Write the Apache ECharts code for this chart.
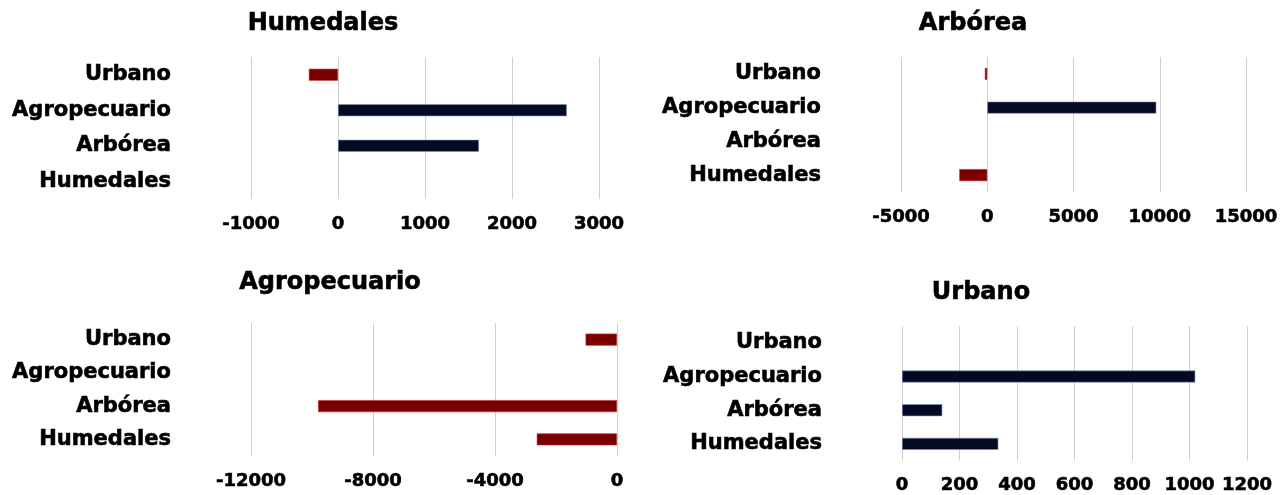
<!DOCTYPE html>
<html>
<head>
<meta charset="utf-8">
<script src="https://cdn.jsdelivr.net/npm/echarts@6/dist/echarts.min.js"></script>
<style>
  html, body { margin: 0; padding: 0; background: #ffffff; }
  #chart { width: 1286px; height: 495px; }
</style>
</head>
<body>
<div id="chart"></div>
<script>
// Categories (top to bottom)
const categories = ['Urbano', 'Agropecuario', 'Arbórea', 'Humedales'];

// Panel titles
const panelTitles = ['Humedales', 'Arbórea', 'Agropecuario', 'Urbano'];

// Values per panel, in category order (null = no bar)
const humedalesValues    = [-335, 2630, 1620, null];
const arboreaValues      = [-140, 9800, null, -1620];
const agropecuarioValues = [-1030, null, -9800, -2630];
const urbanoValues       = [null, 1020, 140, 335];

// Axis ranges and tick steps per panel
const axisMins      = [-1000, -5000, -12000, 0];
const axisMaxs      = [3000, 15000, 0, 1200];
const axisIntervals = [1000, 5000, 4000, 200];

const panelValues = [humedalesValues, arboreaValues, agropecuarioValues, urbanoValues];

// Layout (pixels)
const grids = [
  { left: 251, top: 57,  width: 348, height: 142 },
  { left: 901, top: 57,  width: 345, height: 135 },
  { left: 251, top: 323, width: 366, height: 133 },
  { left: 902, top: 326, width: 345, height: 136 }
];
const titlePos = [
  { x: 323, y: 12 },
  { x: 973, y: 12 },
  { x: 330, y: 271 },
  { x: 981, y: 281 }
];

const FONT = 'DejaVu Sans';
const POS_COLOR = '#050a24';
const POS_BORDER = '#7d95b8';
const NEG_COLOR = '#7a0000';
const NEG_BORDER = '#c83030';

const chart = echarts.init(document.getElementById('chart'), null, { renderer: 'canvas' });

const heavy = { textBorderColor: '#000000', textBorderWidth: 0.6 };

const option = {
  backgroundColor: '#ffffff',
  animation: false,
  title: panelTitles.map((t, i) => ({
    text: t,
    left: titlePos[i].x,
    top: titlePos[i].y,
    textAlign: 'center',
    padding: 0,
    textStyle: Object.assign({ fontFamily: FONT, fontWeight: 'bold', fontSize: 24, color: '#000000' }, heavy)
  })),
  grid: grids.map(g => Object.assign({ containLabel: false }, g)),
  xAxis: grids.map((g, i) => ({
    type: 'value',
    gridIndex: i,
    min: axisMins[i],
    max: axisMaxs[i],
    interval: axisIntervals[i],
    axisLine: { show: false },
    axisTick: { show: false },
    splitLine: { show: true, lineStyle: { color: '#cfcfcf', width: 1 } },
    axisLabel: Object.assign({
      margin: 16,
      formatter: v => String(v),
      fontFamily: FONT, fontWeight: 'bold', fontSize: 18, color: '#000000'
    }, heavy)
  })),
  yAxis: grids.map((g, i) => ({
    type: 'category',
    gridIndex: i,
    data: categories,
    inverse: true,
    axisLine: { show: false },
    axisTick: { show: false },
    splitLine: { show: false },
    axisLabel: Object.assign({
      margin: 80,
      padding: [4, 0, 0, 0],
      fontFamily: FONT, fontWeight: 'bold', fontSize: 21, color: '#000000'
    }, heavy)
  })),
  series: panelValues.map((vals, i) => ({
    type: 'bar',
    xAxisIndex: i,
    yAxisIndex: i,
    barWidth: 12,
    data: vals.map(v => (v === null ? null : {
      value: v,
      itemStyle: {
        color: v < 0 ? NEG_COLOR : POS_COLOR,
        borderColor: v < 0 ? NEG_BORDER : POS_BORDER,
        borderWidth: 0.6
      }
    }))
  }))
};

chart.setOption(option);
</script>
</body>
</html>
